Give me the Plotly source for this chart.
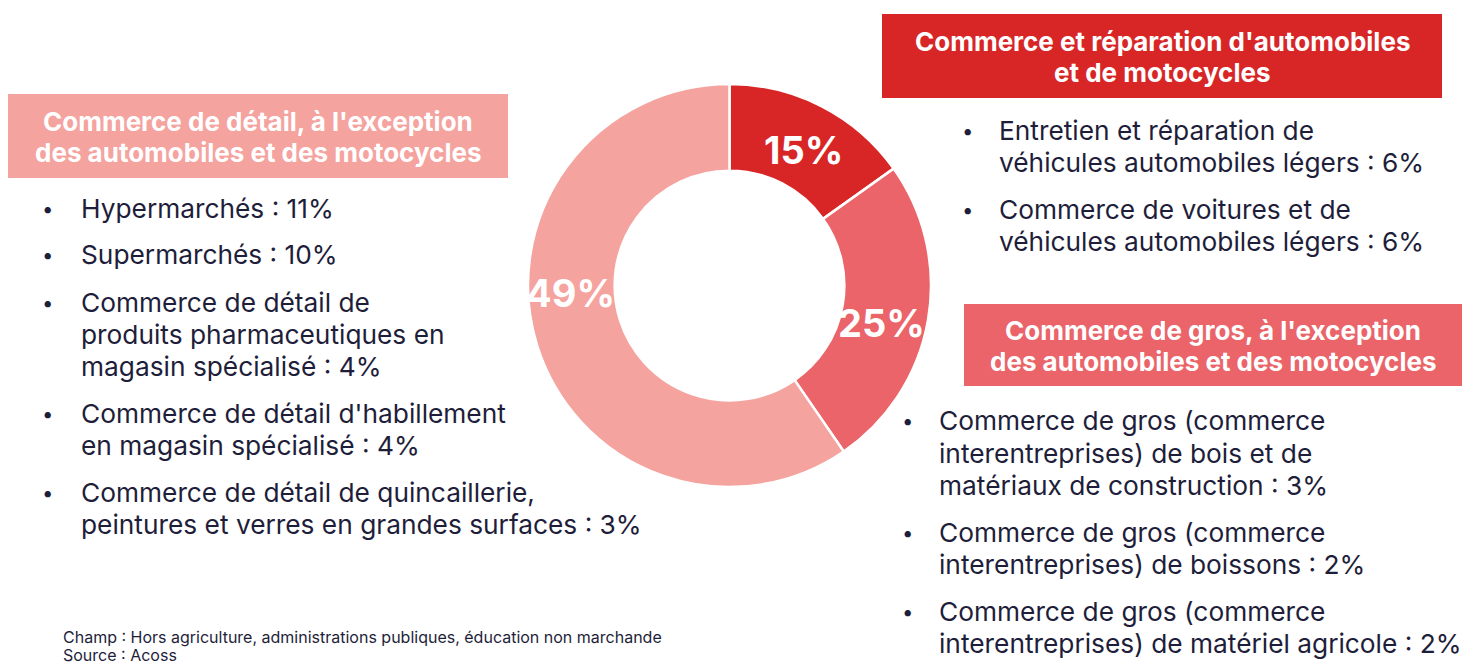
import plotly.graph_objects as go

# ---------------- data ----------------
sectors = [
    "Commerce et réparation d'automobiles et de motocycles",
    "Commerce de gros, à l'exception des automobiles et des motocycles",
    "Commerce de détail, à l'exception des automobiles et des motocycles",
]
shares = [15, 25, 59]
share_labels = ["15%", "25%", "49%"]

title_auto = ["Commerce et réparation d'automobiles", "et de motocycles"]
title_gros = ["Commerce de gros, à l'exception", "des automobiles et des motocycles"]
title_detail = ["Commerce de détail, à l'exception", "des automobiles et des motocycles"]

items_auto = [
    ["Entretien et réparation de", "véhicules automobiles légers : 6%"],
    ["Commerce de voitures et de", "véhicules automobiles légers : 6%"],
]
items_gros = [
    ["Commerce de gros (commerce", "interentreprises) de bois et de", "matériaux de construction : 3%"],
    ["Commerce de gros (commerce", "interentreprises) de boissons : 2%"],
    ["Commerce de gros (commerce", "interentreprises) de matériel agricole : 2%"],
]
items_detail = [
    ["Hypermarchés : 11%"],
    ["Supermarchés : 10%"],
    ["Commerce de détail de", "produits pharmaceutiques en", "magasin spécialisé : 4%"],
    ["Commerce de détail d'habillement", "en magasin spécialisé : 4%"],
    ["Commerce de détail de quincaillerie,", "peintures et verres en grandes surfaces : 3%"],
]
footer = ["Champ : Hors agriculture, administrations publiques, éducation non marchande",
          "Source : Acoss"]

# ---------------- styles ----------------
OFF = 8  # page body margin
W, H = 1478 - OFF, 664 - OFF
C_DARK, C_MID, C_PALE = "#D82627", "#EA6469", "#F4A39F"
TXT = "#1E1E3A"
FONT = "Inter"
FS = 26.3
TFS = 26
LINE = 32
GAP = 47


def px(x):
    return (x - OFF) / W


def py(y):
    return 1 - (y - OFF) / H


fig = go.Figure()
fig.add_trace(go.Pie(
    labels=sectors, values=shares, hole=0.57, sort=False,
    direction="clockwise", rotation=0,
    marker=dict(colors=[C_DARK, C_MID, C_PALE], line=dict(color="white", width=2.5)),
    textinfo="none", hoverinfo="label+percent", showlegend=False,
    domain=dict(x=[px(528), px(931)], y=[py(487), py(84)]),
))

shapes = []
ann = []


def text_at(x, y, t, size, color, anchor="left", bold=False):
    ann.append(dict(x=px(x), y=py(y), xref="paper", yref="paper",
                    text=f"<b>{t}</b>" if bold else t, showarrow=False,
                    xanchor=anchor, yanchor="middle",
                    font=dict(family=FONT, size=size, color=color)))


# share labels inside the ring
label_pos = [(803, 150), (882, 323), (570, 293)]
for t, (x, y) in zip(share_labels, label_pos):
    text_at(x, y, t, 38, "white", anchor="center", bold=True)

# title boxes
boxes = [
    (title_auto, C_DARK, 882, 1442, 14, 98),
    (title_gros, C_MID, 964, 1462, 304, 386),
    (title_detail, C_PALE, 8, 508, 94, 178),
]
for lines, col, x0, x1, y0, y1 in boxes:
    shapes.append(dict(type="rect", xref="paper", yref="paper", x0=px(x0), x1=px(x1),
                       y0=py(y1), y1=py(y0), fillcolor=col, line=dict(width=0), layer="above"))
    yc = (y0 + y1) / 2 + 1
    for i, ln in enumerate(lines):
        text_at((x0 + x1) / 2, yc + (i - (len(lines) - 1) / 2) * 31, ln, TFS, "white",
                anchor="center", bold=True)


def bullets(items, x_dot, x_text, y_first):
    y = y_first
    for it in items:
        text_at(x_dot, y, "•", FS - 6, TXT, anchor="center")
        for i, ln in enumerate(it):
            text_at(x_text - 3, y + i * LINE, ln, FS, TXT)
        y = y + (len(it) - 1) * LINE + GAP


bullets(items_auto, 967, 1000, 130)
bullets(items_gros, 907, 940, 421)
bullets(items_detail, 47, 82, 208)

for i, ln in enumerate(footer):
    text_at(61, 637 + i * 18, ln, 16, TXT)

fig.update_layout(width=W, height=H, margin=dict(l=0, r=0, t=0, b=0),
                  paper_bgcolor="white", plot_bgcolor="white",
                  shapes=shapes, annotations=ann)
fig.write_html("out.html")
